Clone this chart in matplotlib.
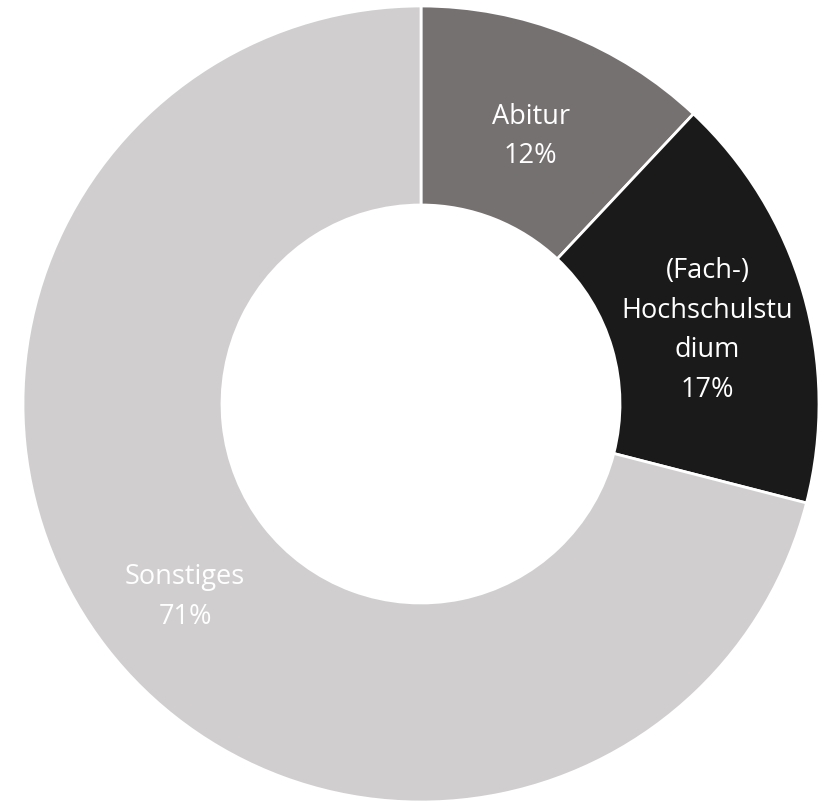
import matplotlib.pyplot as plt
import numpy as np

labels = ['Abitur', '(Fach-)\nHochschulstu\ndium', 'Sonstiges']
values = [12, 17, 71]
colors = ['#767171', '#1a1a1a', '#d0cece']

fig = plt.figure(figsize=(8.19, 8.07), dpi=100)
ax = fig.add_axes([0, 0, 1, 1])

wedges, _ = ax.pie(values, colors=colors, startangle=90, counterclock=False,
                   radius=1.0, wedgeprops=dict(width=0.5, edgecolor='white', linewidth=2))

# Beschriftungen in der Mitte des Rings
total = sum(values)
start = 90.0
for lab, v in zip(labels, values):
    mid = np.deg2rad(start - 360 * v / total / 2)
    start -= 360 * v / total
    x, y = 0.75 * np.cos(mid), 0.75 * np.sin(mid) - 0.025
    ax.text(x, y, f'{lab}\n{v}%', ha='center', va='center', color='white',
            fontsize=19.5, family='Open Sans', linespacing=1.55)

ax.set_xlim(-421 / 398, (819 - 421) / 398)
ax.set_ylim(-(807 - 404) / 398, 404 / 398)
ax.set_aspect('auto')
ax.axis('off')

fig.savefig('out.png', dpi=100)
